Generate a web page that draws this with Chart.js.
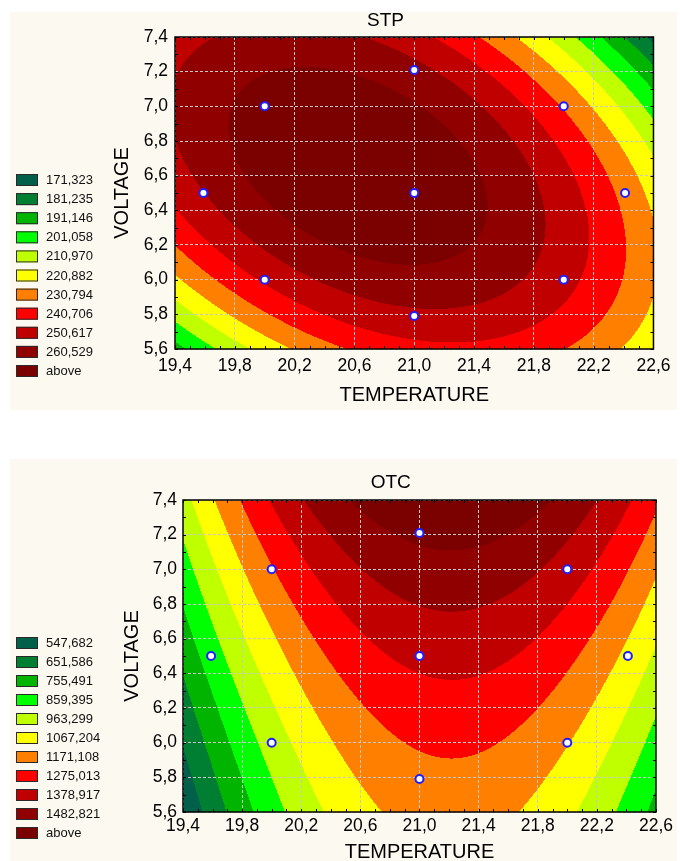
<!DOCTYPE html>
<html>
<head>
<meta charset="utf-8">
<title>STP / OTC contour plots</title>
<script src="https://cdn.jsdelivr.net/npm/chart.js@4.4.1/dist/chart.umd.min.js"></script>
<style>
  html, body { margin: 0; padding: 0; background: #ffffff; }
  body { width: 680px; height: 861px; position: relative; overflow: hidden; }
  .panel { position: absolute; left: 10px; width: 667px; background: #fcfaf0; }
  .panel canvas { display: block; }
  #stpPanel { top: 12px; height: 398px; }
  #otcPanel { top: 459px; height: 402px; }
</style>
</head>
<body>
<div class="panel" id="stpPanel"><canvas id="stpChart" width="667" height="398"></canvas></div>
<div class="panel" id="otcPanel"><canvas id="otcChart" width="667" height="402"></canvas></div>
<script>
// --- experimental runs (central composite design) ---
const temperature = [20.0, 22.0, 20.0, 22.0, 19.59, 22.41, 21.0, 21.0, 21.0];
const voltage     = [6.0, 6.0, 7.0, 7.0, 6.5, 6.5, 5.79, 7.21, 6.5];
const stpValues   = [242.2, 244.0, 263.9, 229.7, 250.4, 227.6, 248.3, 253.6, 267.8];
const otcValues   = [905.0, 1072.2, 1164.0, 1331.2, 805.2, 1040.9, 1137.8, 1505.6, 1300.8];

// --- axes ---
const temperatureTicks = [19.4, 19.8, 20.2, 20.6, 21.0, 21.4, 21.8, 22.2, 22.6];
const voltageTicks = [5.6, 5.8, 6.0, 6.2, 6.4, 6.6, 6.8, 7.0, 7.2, 7.4];

// --- contour levels (legend) ---
const stpLevels = [171.323, 181.235, 191.146, 201.058, 210.970, 220.882, 230.794, 240.706, 250.617, 260.529];
const otcLevels = [547.682, 651.586, 755.491, 859.395, 963.299, 1067.204, 1171.108, 1275.013, 1378.917, 1482.821];
const levelColors = ['#00604a', '#007f32', '#00b400', '#00ff00', '#c0ff00', '#ffff00',
                     '#ff8000', '#ff0000', '#c00000', '#900000', '#7b0000'];

const FONT = '"Liberation Sans", Arial, sans-serif';
Chart.defaults.font.family = FONT;
Chart.defaults.color = '#000';

const comma = (v, d) => Number(v).toFixed(d).replace('.', ',');

// response surface (second order + T²V² term) fitted by least squares
function fitSurface(xs, ys, zs) {
    const mx = xs.reduce((a, b) => a + b, 0) / xs.length;
    const my = ys.reduce((a, b) => a + b, 0) / ys.length;
    const terms = (x, y) => {
        const u = x - mx, w = y - my;
        return [1, u, w, u * u, w * w, u * w, u * u * w * w];
    };
    const n = 7;
    const m = Array.from({ length: n }, () => new Array(n + 1).fill(0));
    xs.forEach((x, k) => {
        const r = terms(x, ys[k]);
        for (let i = 0; i < n; i++) {
            for (let j = 0; j < n; j++) m[i][j] += r[i] * r[j];
            m[i][n] += r[i] * zs[k];
        }
    });
    for (let c = 0; c < n; c++) {
        let p = c;
        for (let r = c + 1; r < n; r++) if (Math.abs(m[r][c]) > Math.abs(m[p][c])) p = r;
        [m[c], m[p]] = [m[p], m[c]];
        for (let r = 0; r < n; r++) {
            if (r === c) continue;
            const f = m[r][c] / m[c][c];
            for (let j = c; j <= n; j++) m[r][j] -= f * m[c][j];
        }
    }
    const b = m.map((row, i) => row[n] / row[i]);
    return (x, y) => terms(x, y).reduce((s, t, i) => s + t * b[i], 0);
}

const hexToRgb = h => [1, 3, 5].map(i => parseInt(h.substr(i, 2), 16));

// contour fill under the grid, frame + legend on top
const contourPlugin = {
    id: 'contour',
    beforeDraw(chart, args, opts) {
        const { ctx, chartArea: a, scales: { x, y } } = chart;
        const dpr = chart.currentDevicePixelRatio || 1;
        const left = Math.round(a.left * dpr), top = Math.round(a.top * dpr);
        const w = Math.round(a.right * dpr) - left, h = Math.round(a.bottom * dpr) - top;
        const img = ctx.createImageData(w, h);
        const rgb = levelColors.map(hexToRgb);
        for (let j = 0; j < h; j++) {
            const v = y.getValueForPixel((top + j + 0.5) / dpr);
            for (let i = 0; i < w; i++) {
                const t = x.getValueForPixel((left + i + 0.5) / dpr);
                const z = opts.surface(t, v);
                let k = 0;
                while (k < opts.levels.length && z > opts.levels[k]) k++;
                const c = rgb[k], p = (j * w + i) * 4;
                img.data[p] = c[0]; img.data[p + 1] = c[1]; img.data[p + 2] = c[2]; img.data[p + 3] = 255;
            }
        }
        ctx.putImageData(img, left, top);
    },
    afterDraw(chart, args, opts) {
        const { ctx, chartArea: a, scales: { x, y } } = chart;
        ctx.save();
        // minor ticks, inward
        ctx.strokeStyle = '#000';
        ctx.lineWidth = 1;
        ctx.beginPath();
        for (let k = 0; k <= 32; k++) {
            const px = Math.round(x.getPixelForValue(19.4 + k * 0.1)) + 0.5;
            ctx.moveTo(px, a.bottom); ctx.lineTo(px, a.bottom - 3);
            ctx.moveTo(px, a.top); ctx.lineTo(px, a.top + 3);
        }
        for (let k = 0; k <= 18; k++) {
            const py = Math.round(y.getPixelForValue(5.6 + k * 0.1)) + 0.5;
            ctx.moveTo(a.left, py); ctx.lineTo(a.left + 3, py);
            ctx.moveTo(a.right, py); ctx.lineTo(a.right - 3, py);
        }
        ctx.stroke();
        // frame
        ctx.lineWidth = 1.5;
        ctx.strokeRect(a.left, a.top, a.right - a.left, a.bottom - a.top);

        // legend
        const labels = opts.levels.map(v => comma(v, 3)).concat(['above']);
        ctx.font = '13px ' + FONT;
        ctx.textBaseline = 'middle';
        ctx.textAlign = 'left';
        labels.forEach((lab, k) => {
            const ty = opts.legendTop + k * opts.legendStep;
            ctx.fillStyle = levelColors[k];
            ctx.fillRect(opts.legendX, ty, 22, 12);
            ctx.strokeStyle = '#2a2a2a';
            ctx.lineWidth = 1;
            ctx.strokeRect(opts.legendX + 0.5, ty + 0.5, 21, 11);
            ctx.fillStyle = '#111';
            ctx.fillText(lab, opts.legendX + 30, ty + 6.5);
        });
        ctx.restore();
    }
};

function makeChart(id, cfg) {
    const surface = fitSurface(temperature, voltage, cfg.values);
    return new Chart(document.getElementById(id), {
        type: 'scatter',
        data: {
            datasets: [{
                data: temperature.map((t, i) => ({ x: t, y: voltage[i] })),
                pointRadius: 4,
                pointHoverRadius: 4,
                pointBorderWidth: 2,
                pointBackgroundColor: '#ffffff',
                pointBorderColor: '#1e1eff'
            }]
        },
        options: {
            responsive: false,
            animation: false,
            events: [],
            layout: { padding: cfg.padding },
            plugins: {
                legend: { display: false },
                tooltip: { enabled: false },
                title: {
                    display: true,
                    text: cfg.title,
                    color: '#000',
                    font: { size: 19, weight: 'normal', lineHeight: 0.9 },
                    padding: cfg.titlePadding
                },
                contour: {
                    surface,
                    levels: cfg.levels,
                    legendX: 6,
                    legendTop: cfg.legendTop,
                    legendStep: cfg.legendStep
                }
            },
            scales: {
                x: {
                    type: 'linear',
                    min: temperatureTicks[0],
                    max: temperatureTicks[temperatureTicks.length - 1],
                    afterBuildTicks: s => { s.ticks = temperatureTicks.map(v => ({ value: v })); },
                    afterFit: s => { s.height = cfg.xHeight; },
                    grid: { color: '#c8c8c8', lineWidth: 1, drawTicks: false },
                    border: { display: false, dash: [3, 2] },
                    ticks: {
                        color: '#000', font: { size: 17.5 }, padding: cfg.xTickPad,
                        maxRotation: 0, autoSkip: false, callback: v => comma(v, 1)
                    },
                    title: {
                        display: true, text: 'TEMPERATURE', color: '#000',
                        font: { size: 20, lineHeight: 0.85 },
                        padding: { top: 0, bottom: cfg.xTitlePad }
                    }
                },
                y: {
                    type: 'linear',
                    min: voltageTicks[0],
                    max: voltageTicks[voltageTicks.length - 1],
                    afterBuildTicks: s => { s.ticks = voltageTicks.map(v => ({ value: v })); },
                    afterFit: s => { s.width = cfg.yWidth; },
                    grid: { color: '#c8c8c8', lineWidth: 1, drawTicks: false },
                    border: { display: false, dash: [3, 2] },
                    ticks: {
                        color: '#000', font: { size: 17.5 }, padding: cfg.yTickPad,
                        autoSkip: false, callback: v => comma(v, 1)
                    },
                    title: {
                        display: true, text: 'VOLTAGE', color: '#000',
                        font: { size: 20, lineHeight: 1.2 },
                        padding: { top: 0, bottom: 0 }
                    }
                }
            }
        },
        plugins: [contourPlugin]
    });
}

makeChart('stpChart', {
    title: 'STP', values: stpValues, levels: stpLevels,
    padding: { left: 100, right: 16, top: 0, bottom: 0 },
    titlePadding: { top: 0, bottom: 7.9 },
    yWidth: 65, yTickPad: 7, xHeight: 61, xTickPad: 6.5, xTitlePad: 5.7,
    legendTop: 162, legendStep: 19.1
});

makeChart('otcChart', {
    title: 'OTC', values: otcValues, levels: otcLevels,
    padding: { left: 110.5, right: 16, top: 0, bottom: 0 },
    titlePadding: { top: 15, bottom: 8.9 },
    yWidth: 62.5, yTickPad: 6, xHeight: 49, xTickPad: 4, xTitlePad: 0,
    legendTop: 178, legendStep: 19
});
</script>
</body>
</html>
